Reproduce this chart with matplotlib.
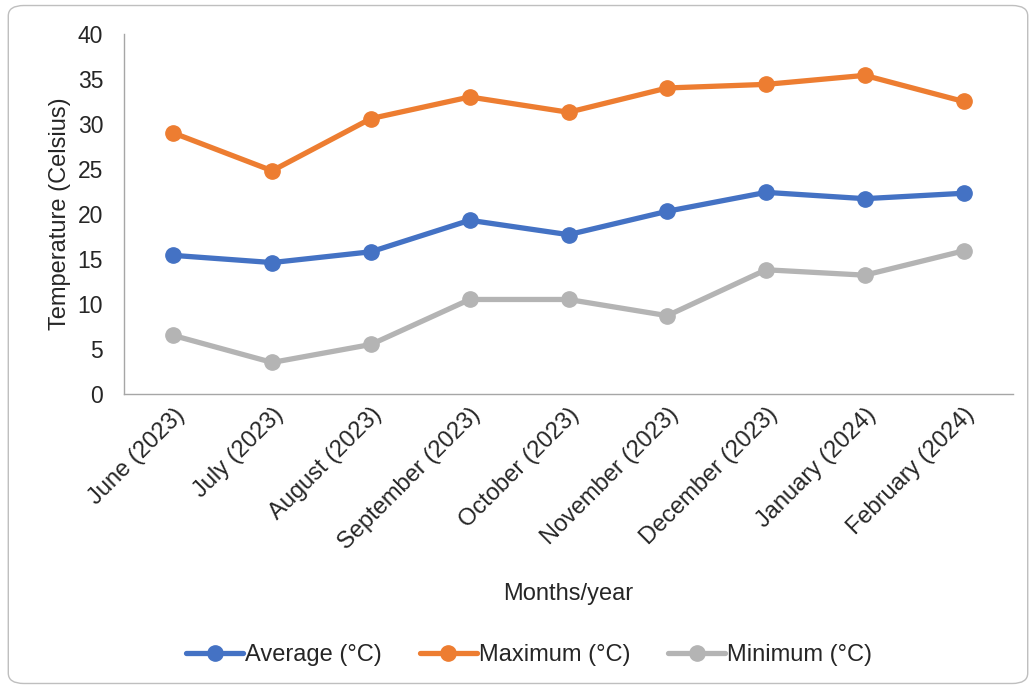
import matplotlib
matplotlib.use("Agg")
import matplotlib.pyplot as plt
from matplotlib.patches import FancyBboxPatch

plt.rcParams['font.family'] = ['Liberation Sans', 'DejaVu Sans']

months = ["June (2023)", "July (2023)", "August (2023)", "September (2023)",
          "October (2023)", "November (2023)", "December (2023)",
          "January (2024)", "February (2024)"]
average = [15.4, 14.6, 15.8, 19.3, 17.7, 20.3, 22.4, 21.7, 22.3]
maximum = [29.0, 24.8, 30.6, 33.0, 31.3, 34.0, 34.4, 35.4, 32.5]
minimum = [6.5, 3.5, 5.5, 10.5, 10.5, 8.7, 13.8, 13.2, 15.9]

TEXT = "#262626"

fig = plt.figure(figsize=(10.36, 6.89), dpi=100)
ax = fig.add_axes([0.1197, 0.4282, 0.8581, 0.5225])

# Rounded frame around the whole chart
frame = FancyBboxPatch((0.008, 0.008), 0.984, 0.984,
                       boxstyle="round,pad=0,rounding_size=0.015",
                       transform=fig.transFigure, facecolor="none",
                       edgecolor="#BFBFBF", linewidth=1.0)
fig.patches.append(frame)

x = list(range(len(months)))
series = [("Average (°C)", average, "#4472C4"),
          ("Maximum (°C)", maximum, "#ED7D31"),
          ("Minimum (°C)", minimum, "#B4B4B4")]
for label, vals, color in series:
    ax.plot(x, vals, color=color, linewidth=3.8, marker="o",
            markersize=11, label=label, solid_capstyle="round")

ax.set_xlim(-0.5, len(months) - 0.5)
ax.set_ylim(0, 40)
ax.set_yticks(range(0, 41, 5))
ax.set_xticks(x)
ax.set_xticklabels(months, rotation=45, ha="right", rotation_mode="anchor",
                   fontsize=17, color=TEXT)
ax.tick_params(axis="y", length=0, labelsize=16.5, labelcolor=TEXT, pad=15)
ax.tick_params(axis="x", length=0, pad=7)

for side in ("top", "right"):
    ax.spines[side].set_visible(False)
for side in ("left", "bottom"):
    ax.spines[side].set_color("#A6A6A6")
    ax.spines[side].set_linewidth(1.0)

ax.set_ylabel("Temperature (Celsius)", fontsize=17, color=TEXT, labelpad=4.5)
fig.text(0.5485, 0.138, "Months/year", ha="center", va="center",
         fontsize=17, color=TEXT)

fig.legend(loc="center", bbox_to_anchor=(0.511, 0.049), ncol=3, frameon=False,
           fontsize=17, handlelength=2.4, columnspacing=1.6, handletextpad=0.1,
           labelcolor=TEXT)

fig.savefig("out.png", dpi=100)
